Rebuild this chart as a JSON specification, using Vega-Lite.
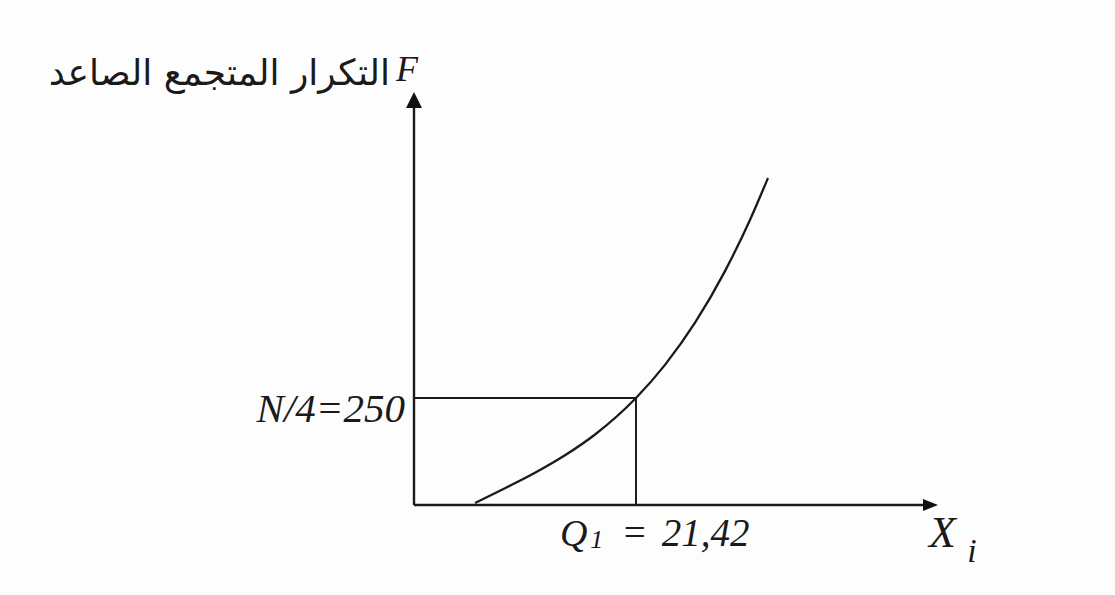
{
  "$schema": "https://vega.github.io/schema/vega-lite/v6.json",
  "width": 1115,
  "height": 595,
  "padding": 0,
  "autosize": {"type": "fit", "contains": "padding"},
  "background": "#fdfdfd",
  "config": {"view": {"stroke": null}},
  "datasets": {
    "ogive": [
      {"x": 5.89, "F": 4.67},
      {"x": 8.78, "F": 39.25},
      {"x": 11.68, "F": 75.35},
      {"x": 14.57, "F": 116.1},
      {"x": 17.47, "F": 164.7},
      {"x": 21.42, "F": 250},
      {"x": 24.22, "F": 327.4},
      {"x": 27.12, "F": 425.9},
      {"x": 30.01, "F": 546.5},
      {"x": 32.42, "F": 666.1},
      {"x": 34.16, "F": 764.0}
    ],
    "axisLines": [
      {"name": "F", "x": 0, "y": 0, "x2": 0, "y2": 928},
      {"name": "Xi", "x": 0, "y": 0, "x2": 49.4, "y2": 0}
    ],
    "quartileLines": [
      {"name": "N/4", "x": 0, "y": 250, "x2": 21.42, "y2": 250},
      {"name": "Q1", "x": 21.42, "y": 0, "x2": 21.42, "y2": 250}
    ],
    "arrowUp": [{"x": 0, "y": 946}],
    "arrowRight": [{"x": 49.84, "y": 0}],
    "labels": [
      {"role": "title", "text": "التكرار المتجمع الصاعد", "x": -2.32, "y": 981},
      {"role": "F", "text": "F", "x": -1.74, "y": 990},
      {"role": "N", "text": "N/4=250", "x": -0.87, "y": 194},
      {"role": "Q", "text": "Q", "x": 14.1, "y": -96},
      {"role": "Qsub", "text": "1", "x": 17.0, "y": -100},
      {"role": "Qval", "text": "=", "x": 20.0, "y": -96},
      {"role": "Qval", "text": "21,42", "x": 23.9, "y": -96},
      {"role": "X", "text": "X", "x": 49.7, "y": -98},
      {"role": "Xsub", "text": "i", "x": 53.4, "y": -133}
    ]
  },
  "encoding": {
    "x": {"type": "quantitative", "scale": {"domain": [-39.951, 67.6465], "nice": false, "zero": false}, "axis": null},
    "y": {"type": "quantitative", "scale": {"domain": [-210.28, 1179.88], "nice": false, "zero": false}, "axis": null}
  },
  "layer": [
    {
      "data": {"name": "axisLines"},
      "mark": {"type": "rule", "color": "#1a1a1a", "strokeWidth": 2.4},
      "encoding": {
        "x": {"field": "x"},
        "y": {"field": "y"},
        "x2": {"field": "x2"},
        "y2": {"field": "y2"}
      }
    },
    {
      "data": {"name": "quartileLines"},
      "mark": {"type": "rule", "color": "#1a1a1a", "strokeWidth": 2},
      "encoding": {
        "x": {"field": "x"},
        "y": {"field": "y"},
        "x2": {"field": "x2"},
        "y2": {"field": "y2"}
      }
    },
    {
      "data": {"name": "ogive"},
      "mark": {"type": "line", "color": "#1a1a1a", "strokeWidth": 2.3, "interpolate": "monotone"},
      "encoding": {
        "x": {"field": "x"},
        "y": {"field": "F"}
      }
    },
    {
      "data": {"name": "arrowUp"},
      "mark": {"type": "point", "shape": "M0,-1L1,1L-1,1Z", "filled": true, "color": "#111111", "opacity": 1, "size": 256, "strokeWidth": 0},
      "encoding": {"x": {"field": "x"}, "y": {"field": "y"}}
    },
    {
      "data": {"name": "arrowRight"},
      "mark": {"type": "point", "shape": "M1,0L-1,-0.8L-1,0.8Z", "filled": true, "color": "#111111", "opacity": 1, "size": 225, "strokeWidth": 0},
      "encoding": {"x": {"field": "x"}, "y": {"field": "y"}}
    },
    {
      "data": {"name": "labels"},
      "transform": [{"filter": "datum.role === 'title'"}],
      "mark": {"type": "text", "font": "DejaVu Sans", "fontSize": 36, "align": "right", "baseline": "alphabetic", "color": "#1a1a1a"},
      "encoding": {"x": {"field": "x"}, "y": {"field": "y"}, "text": {"field": "text"}}
    },
    {
      "data": {"name": "labels"},
      "transform": [{"filter": "datum.role === 'F'"}],
      "mark": {"type": "text", "font": "Liberation Serif", "fontStyle": "italic", "fontSize": 36, "align": "left", "baseline": "alphabetic", "color": "#1a1a1a"},
      "encoding": {"x": {"field": "x"}, "y": {"field": "y"}, "text": {"field": "text"}}
    },
    {
      "data": {"name": "labels"},
      "transform": [{"filter": "datum.role === 'N'"}],
      "mark": {"type": "text", "font": "Liberation Serif", "fontStyle": "italic", "fontSize": 41, "align": "right", "baseline": "alphabetic", "color": "#1a1a1a"},
      "encoding": {"x": {"field": "x"}, "y": {"field": "y"}, "text": {"field": "text"}}
    },
    {
      "data": {"name": "labels"},
      "transform": [{"filter": "datum.role === 'Q'"}],
      "mark": {"type": "text", "font": "Liberation Serif", "fontStyle": "italic", "fontSize": 38, "align": "left", "baseline": "alphabetic", "color": "#1a1a1a"},
      "encoding": {"x": {"field": "x"}, "y": {"field": "y"}, "text": {"field": "text"}}
    },
    {
      "data": {"name": "labels"},
      "transform": [{"filter": "datum.role === 'Qsub'"}],
      "mark": {"type": "text", "font": "Liberation Serif", "fontStyle": "italic", "fontSize": 26, "align": "left", "baseline": "alphabetic", "color": "#1a1a1a"},
      "encoding": {"x": {"field": "x"}, "y": {"field": "y"}, "text": {"field": "text"}}
    },
    {
      "data": {"name": "labels"},
      "transform": [{"filter": "datum.role === 'Qval'"}],
      "mark": {"type": "text", "font": "Liberation Serif", "fontStyle": "italic", "fontSize": 39, "align": "left", "baseline": "alphabetic", "color": "#1a1a1a"},
      "encoding": {"x": {"field": "x"}, "y": {"field": "y"}, "text": {"field": "text"}}
    },
    {
      "data": {"name": "labels"},
      "transform": [{"filter": "datum.role === 'X'"}],
      "mark": {"type": "text", "font": "Liberation Serif", "fontStyle": "italic", "fontSize": 44, "align": "left", "baseline": "alphabetic", "color": "#1a1a1a"},
      "encoding": {"x": {"field": "x"}, "y": {"field": "y"}, "text": {"field": "text"}}
    },
    {
      "data": {"name": "labels"},
      "transform": [{"filter": "datum.role === 'Xsub'"}],
      "mark": {"type": "text", "font": "Liberation Serif", "fontStyle": "italic", "fontSize": 34, "align": "left", "baseline": "alphabetic", "color": "#1a1a1a"},
      "encoding": {"x": {"field": "x"}, "y": {"field": "y"}, "text": {"field": "text"}}
    }
  ]
}
